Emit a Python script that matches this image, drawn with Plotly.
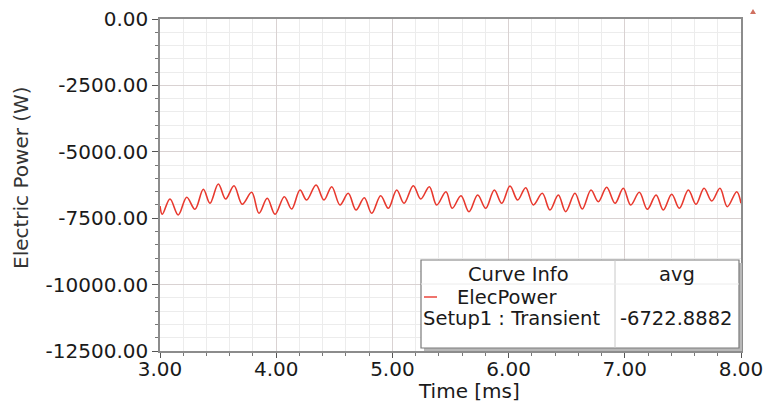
import plotly.graph_objects as go

# ---- data (extrema of the waveform) ----
time_ms = [3.000, 3.020, 3.086, 3.157, 3.230, 3.301, 3.373, 3.430, 3.502, 3.565,
           3.637, 3.708, 3.789, 3.852, 3.923, 3.990, 4.070, 4.133, 4.205, 4.262,
           4.343, 4.411, 4.478, 4.549, 4.620, 4.687, 4.758, 4.822, 4.899, 4.965,
           5.037, 5.100, 5.180, 5.244, 5.318, 5.381, 5.461, 5.515, 5.590, 5.659,
           5.734, 5.803, 5.877, 5.941, 6.012, 6.078, 6.147, 6.213, 6.290, 6.356,
           6.428, 6.491, 6.571, 6.634, 6.709, 6.772, 6.844, 6.916, 6.987, 7.051,
           7.125, 7.194, 7.269, 7.331, 7.404, 7.469, 7.547, 7.613, 7.682, 7.748,
           7.819, 7.882, 7.963, 8.000]
elec_power = [-7041, -7353, -6777, -7379, -6713, -7165, -6412, -6939, -6212, -6777,
              -6276, -6977, -6525, -7315, -6751, -7353, -6690, -7154, -6438, -6815,
              -6250, -6815, -6314, -7003, -6563, -7191, -6728, -7315, -6653, -7127,
              -6438, -6939, -6276, -6777, -6314, -7003, -6502, -7127, -6653, -7255,
              -6626, -7127, -6438, -6939, -6288, -6815, -6352, -7003, -6563, -7191,
              -6626, -7255, -6563, -7154, -6438, -6879, -6337, -6939, -6374, -7003,
              -6525, -7165, -6626, -7191, -6600, -7127, -6438, -6977, -6374, -6852,
              -6374, -7067, -6502, -6939]

x_tickvals = [3, 4, 5, 6, 7, 8]
x_ticktext = ["3.00", "4.00", "5.00", "6.00", "7.00", "8.00"]
y_tickvals = [0, -2500, -5000, -7500, -10000, -12500]
y_ticktext = ["0.00", "-2500.00", "-5000.00", "-7500.00", "-10000.00", "-12500.00"]

x_title = "Time [ms]"
y_title = "Electric Power (W)"
curve_name = "ElecPower"
curve_setup = "Setup1 : Transient"
avg_label = "-6722.8882"

# ---- layout geometry (page pixels; the page body adds an 8px offset) ----
PAGE_W, PAGE_H, OFF = 771, 406, 8
W, H = PAGE_W - OFF, PAGE_H - OFF
L, R, T, B = 160, 741, 19, 351   # plot area in page pixels


def px(x):
    return (x - L) / (R - L)


def py(y):
    return (B - y) / (B - T)


RED = "#e8392e"
FONT = "DejaVu Sans"
TICKFONT = dict(family=FONT, size=20, color="#1a1a1a")

fig = go.Figure()
fig.add_trace(go.Scatter(
    x=time_ms, y=elec_power, mode="lines",
    line=dict(color=RED, width=1.6, shape="spline", smoothing=1.0),
    name=curve_name, showlegend=False, hoverinfo="skip"))

axis_common = dict(
    showline=True, linecolor="#8c8c8c", linewidth=1.5, mirror=True,
    ticks="outside", tickcolor="#555555", tickwidth=1,
    showgrid=True, gridcolor="#d9d2d2", gridwidth=1,
    zeroline=False, tickfont=TICKFONT, automargin=False,
    ticklabeloverflow="allow",
)

fig.update_xaxes(
    range=[3, 8], tickvals=x_tickvals, ticktext=x_ticktext, ticklen=5,
    ticklabelstandoff=-6,
    minor=dict(dtick=0.2, tick0=3, ticks="outside", ticklen=3, tickcolor="#777777",
               showgrid=True, gridcolor="#ececec", gridwidth=1),
    **axis_common)
fig.update_yaxes(
    range=[-12500, 0], tickvals=y_tickvals, ticktext=y_ticktext, ticklen=6,
    minor=dict(dtick=500, tick0=0, ticks="outside", ticklen=3, tickcolor="#777777",
               showgrid=True, gridcolor="#ececec", gridwidth=1),
    **axis_common)

# ---- curve info table (legend box) ----
bx0, by0, bx1, by1, bdiv = 421, 260, 739, 348, 615
shapes = [
    # shadow
    dict(type="rect", xref="paper", yref="paper", x0=px(bx0 + 3), x1=px(bx1 + 3),
         y0=py(by1 + 3), y1=py(by0 + 3), line=dict(width=0), fillcolor="#b8b8b8", layer="above"),
    dict(type="rect", xref="paper", yref="paper", x0=px(bx0), x1=px(bx1),
         y0=py(by1), y1=py(by0), line=dict(color="#7a7a7a", width=1.2),
         fillcolor="white", layer="above"),
    dict(type="line", xref="paper", yref="paper", x0=px(bdiv), x1=px(bdiv),
         y0=py(by1), y1=py(by0), line=dict(color="#c8c8c8", width=1), layer="above"),
    dict(type="line", xref="paper", yref="paper", x0=px(bx0), x1=px(bx1),
         y0=py(284), y1=py(284), line=dict(color="#ececec", width=1), layer="above"),
    dict(type="line", xref="paper", yref="paper", x0=px(424), x1=px(437),
         y0=py(297), y1=py(297), line=dict(color=RED, width=1.4), layer="above"),
    # small marker at top right corner
    dict(type="path", xref="paper", yref="paper",
         path=f"M {px(750)} {py(14)} L {px(756)} {py(14)} L {px(753)} {py(9)} Z",
         line=dict(width=0), fillcolor="#d07060", layer="above"),
]
TABFONT = dict(family=FONT, size=19.5, color="#1a1a1a")
ann = [
    dict(text="Curve Info", x=px(518), y=py(274), xanchor="center", yanchor="middle"),
    dict(text="avg", x=px(677), y=py(274), xanchor="center", yanchor="middle"),
    dict(text=curve_name, x=px(455), y=py(297), xanchor="left", yanchor="middle"),
    dict(text=curve_setup, x=px(421), y=py(318), xanchor="left", yanchor="middle"),
    dict(text=avg_label, x=px(676), y=py(318), xanchor="center", yanchor="middle"),
]
annotations = [dict(a, xref="paper", yref="paper", showarrow=False, font=TABFONT) for a in ann]
annotations.append(dict(text=x_title, x=px(469), y=py(391), xref="paper", yref="paper",
                        xanchor="center", yanchor="middle", showarrow=False,
                        font=dict(family=FONT, size=20, color="#1a1a1a")))
annotations.append(dict(text=y_title, x=px(21), y=py(178), xref="paper", yref="paper",
                        xanchor="center", yanchor="middle", showarrow=False, textangle=-90,
                        font=dict(family=FONT, size=20, color="#333333")))

fig.update_layout(
    width=W, height=H,
    margin=dict(l=L - OFF, r=W - (R - OFF), t=T - OFF, b=H - (B - OFF), pad=0, autoexpand=False),
    plot_bgcolor="white", paper_bgcolor="white",
    shapes=shapes, annotations=annotations,
    showlegend=False,
)

fig.write_html("out.html")
